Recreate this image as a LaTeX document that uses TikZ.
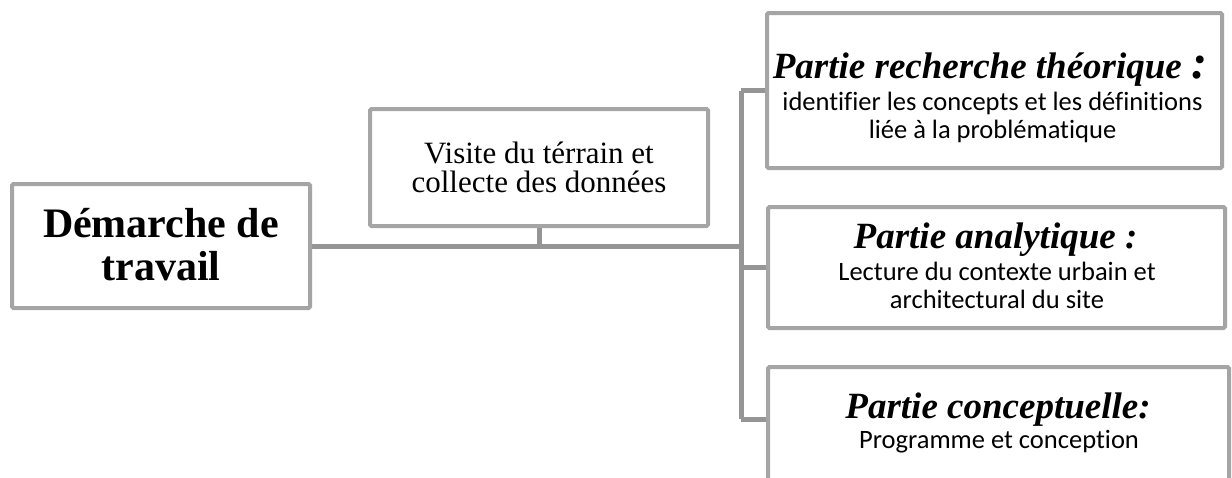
\documentclass[tikz,border=0pt]{standalone}
\usepackage{fontspec}
\setmainfont{Liberation Serif}
\newfontfamily\calib[Ligatures=NoCommon]{Carlito}
\definecolor{boxgray}{HTML}{A5A5A5}
\definecolor{conngray}{HTML}{959595}
\begin{document}
\begin{tikzpicture}[x=1pt,y=-1pt,
  box/.style={draw=boxgray, line width=4pt, rounded corners=1.5pt, rectangle, inner sep=0pt, fill=white},
  conn/.style={draw=conngray, line width=5pt},
  ttl/.style={anchor=base, inner sep=0pt, font=\fontsize{37}{37}\selectfont\bfseries\itshape},
  sub/.style={anchor=base, inner sep=0pt, font=\calib\fontsize{26.5}{26.5}\selectfont},
  big/.style={anchor=base, inner sep=0pt, font=\fontsize{42}{42}\selectfont\bfseries},
  mid/.style={anchor=base, inner sep=0pt, font=\fontsize{31}{31}\selectfont}]
\clip (0,0) rectangle (1232,477);
\fill[white] (0,0) rectangle (1232,477);
% boxes
\node[box, minimum width=298pt, minimum height=124pt] (lb) at (161,246) {};
\node[box, minimum width=338pt, minimum height=117pt] (mb) at (539,167.5) {};
\node[box, minimum width=455pt, minimum height=155pt] (r1) at (994.5,90.5) {};
\node[box, minimum width=457pt, minimum height=121pt] (r2) at (996.5,267.5) {};
\node[box, minimum width=461pt, minimum height=124pt] (r3) at (998.5,429) {};
% spine
\coordinate (spine) at (741,246);
\coordinate (b3) at ([yshift=-54pt]r3.north west);
% connectors
\draw[conn] (lb.east) -- (lb.east -| spine);
\draw[conn] (mb.south) -- (mb.south |- spine);
\draw[conn] (r1.west -| spine) -- (b3 -| spine);
\draw[conn] (r1.west -| spine) -- (r1.west);
\draw[conn] (r2.west -| spine) -- (r2.west);
\draw[conn] (b3 -| spine) -- (b3);
% texts
\node[big] (lt1) at (161,237) {Démarche de};
\node[big] (lt2) at (161,280) {travail};
\node[mid] (mt1) at (539,163) {Visite du térrain et};
\node[mid] (mt2) at (539,192) {collecte des données};
\node[ttl] (t1) at (990,78) {Partie recherche théorique {\fontsize{48}{48}\selectfont :}};
\node[sub] (s1a) at (992.5,110) {identifier les concepts et les définitions};
\node[sub] (s1b) at (992.5,138) {liée à la problématique};
\node[ttl] (t2) at (995.5,248) {Partie analytique :};
\node[sub] (s2a) at (997,280) {Lecture du contexte urbain et};
\node[sub] (s2b) at (997,308) {architectural du site};
\node[ttl] (t3) at (998,418) {Partie conceptuelle:};
\node[sub] (s3a) at (999,448) {Programme et conception};
\end{tikzpicture}
\end{document}
